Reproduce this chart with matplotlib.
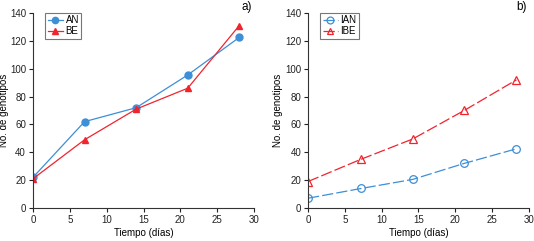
import matplotlib
matplotlib.use("Agg")
import matplotlib.pyplot as plt

plt.rcParams['font.family'] = ['Liberation Sans', 'DejaVu Sans']

days_a = [0, 7, 14, 21, 28]
an = [22, 62, 72, 95.5, 122.5]
be = [21, 49, 71, 86, 131]

days_b = [0, 7.2, 14.2, 21.2, 28.3]
ian = [7, 14, 20.5, 32, 42.5]
ibe = [19, 35, 49.5, 70, 92]

xticks = [0, 5, 10, 15, 20, 25, 30]
yticks = [0, 20, 40, 60, 80, 100, 120, 140]

blue = '#3d8fd6'
red = '#f2232d'

fig = plt.figure(figsize=(5.34, 2.41), dpi=100)
ax1 = fig.add_axes([0.0618, 0.137, 0.4139, 0.809])
ax2 = fig.add_axes([0.5768, 0.137, 0.4138, 0.809])

ax1.plot(days_a, an, '-o', color=blue, lw=0.9, ms=5, label='AN')
ax1.plot(days_a, be, '-^', color=red, lw=0.9, ms=5, label='BE')

ax2.plot(days_b, ian, 'o', ls=(0, (9, 2.5)), color=blue, lw=0.9, ms=5.5,
         mfc='none', mew=0.9, label='IAN')
ax2.plot(days_b, ibe, '^', ls=(0, (9, 2.5)), color=red, lw=0.9, ms=5.5,
         mfc='none', mew=0.9, label='IBE')

for ax, tag, ylx in [(ax1, 'a)', -0.108), (ax2, 'b)', -0.112)]:
    ax.set_xlim(0, 30)
    ax.set_ylim(0, 140)
    ax.set_xticks(xticks)
    ax.set_yticks(yticks)
    ax.spines['top'].set_visible(False)
    ax.spines['right'].set_visible(False)
    for s in ('left', 'bottom'):
        ax.spines[s].set_linewidth(0.8)
        ax.spines[s].set_color('#333333')
    ax.tick_params(direction='out', length=3, width=0.8, labelsize=7, pad=2, colors='#222222')
    ax.set_xlabel('Tiempo (días)', fontsize=7, labelpad=2)
    ax.set_ylabel('No. de genotipos', fontsize=7)
    ax.yaxis.set_label_coords(ylx, 0.5)
    leg = ax.legend(loc='upper left', bbox_to_anchor=(0.055, 1.0), fontsize=7,
                    frameon=True, fancybox=False, edgecolor='#555555',
                    handlelength=1.6, handletextpad=0.25, borderpad=0.25,
                    labelspacing=0.1, borderaxespad=0.0, markerscale=0.9)
    leg.get_frame().set_linewidth(0.8)
    ax.text(0.99, 1.03, tag, transform=ax.transAxes, ha='right', va='center', fontsize=8.5)

fig.savefig('out.png', dpi=100)
